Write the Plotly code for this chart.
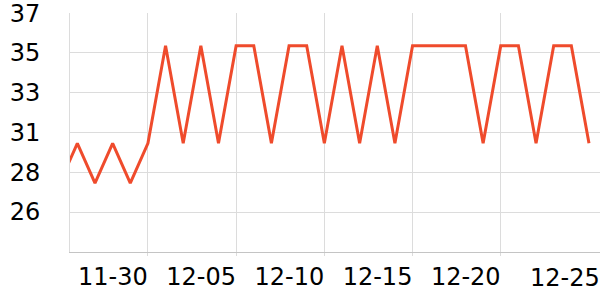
import plotly.graph_objects as go

# Data
dates = ["2023-11-25", "2023-11-26", "2023-11-27", "2023-11-28", "2023-11-29", "2023-11-30",
         "2023-12-01", "2023-12-02", "2023-12-03", "2023-12-04", "2023-12-05", "2023-12-06",
         "2023-12-07", "2023-12-08", "2023-12-09", "2023-12-10", "2023-12-11", "2023-12-12",
         "2023-12-13", "2023-12-14", "2023-12-15", "2023-12-16", "2023-12-17", "2023-12-18",
         "2023-12-19", "2023-12-20", "2023-12-21", "2023-12-22", "2023-12-23", "2023-12-24",
         "2023-12-25"]
values = [27.8, 30.0, 27.8, 30.0, 27.8, 30.0,
          35.4, 30.0, 35.4, 30.0, 35.4, 35.4,
          30.0, 35.4, 35.4, 30.0, 35.4, 30.0,
          35.4, 30.0, 35.4, 35.4, 35.4, 35.4,
          30.0, 35.4, 35.4, 30.0, 35.4, 35.4,
          30.0]

x_tick_dates = ["2023-11-30", "2023-12-05", "2023-12-10", "2023-12-15", "2023-12-20", "2023-12-25"]
x_tick_labels = ["11-30", "12-05", "12-10", "12-15", "12-20", "12-25"]

y_tick_vals = [24.0, 26.2, 28.4, 30.6, 32.8, 35.0, 37.2]
y_tick_labels = ["", "26", "28", "31", "33", "35", "37"]

FONT = "DejaVu Sans"
GRID = "#dcdcdc"

fig = go.Figure()
fig.add_trace(go.Scatter(
    x=dates, y=values, mode="lines",
    line=dict(color="#ef4b2c", width=3),
    hoverinfo="skip", showlegend=False,
))

# last x label drawn as annotation (no gridline at that date in the reference)
fig.add_annotation(
    x=x_tick_dates[-1], y=0, xref="x", yref="paper",
    text=x_tick_labels[-1], showarrow=False,
    xanchor="center", yanchor="top", xshift=-24, yshift=-10,
    font=dict(family=FONT, size=24, color="#000000"),
)

fig.update_layout(
    width=600, height=300,
    margin=dict(l=70, r=0, t=10, b=48, pad=0),
    paper_bgcolor="white", plot_bgcolor="white",
    font=dict(family=FONT, size=24, color="#000000"),
    xaxis=dict(
        type="date",
        range=["2023-11-25 14:00", "2023-12-25 15:00"],
        tickvals=x_tick_dates[:-1], ticktext=x_tick_labels[:-1],
        ticklabelshift=-35, ticklabelstandoff=0,
        ticklabeloverflow="allow",
        showgrid=True, gridcolor=GRID, gridwidth=1,
        showline=True, linecolor="#c4c4c4", linewidth=1,
        ticks="outside", ticklen=3, tickcolor=GRID,
        zeroline=False,
    ),
    yaxis=dict(
        range=[23.99, 37.21],
        tickvals=y_tick_vals, ticktext=y_tick_labels,
        showgrid=True, gridcolor=GRID, gridwidth=1,
        showline=True, linecolor=GRID, linewidth=1,
        ticks="outside", ticklen=11, tickcolor="rgba(0,0,0,0)",
        ticklabelstandoff=13, ticklabeloverflow="allow",
        zeroline=False,
    ),
)

fig.write_html("out.html")
